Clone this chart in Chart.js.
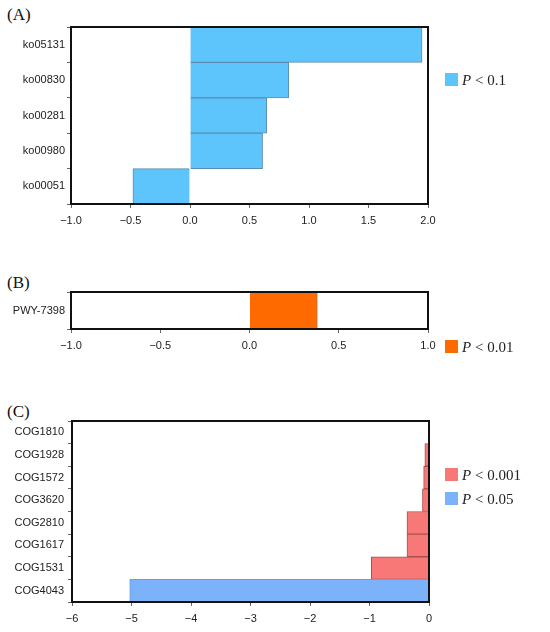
<!DOCTYPE html>
<html>
<head>
<meta charset="utf-8">
<script src="https://cdn.jsdelivr.net/npm/chart.js@4"></script>
<style>
  body { margin: 0; background: #fff; width: 550px; height: 632px; position: relative; overflow: hidden; }
  .panel { position: absolute; left: 0; width: 550px; }
  .tag { position: absolute; left: 7px; font: 17px "Liberation Serif", serif; color: #111; }
  .leg { position: absolute; left: 445px; font: 15px "Liberation Serif", serif; color: #222; white-space: nowrap; line-height: 14px; }
  .leg span.sw { display: inline-block; width: 13px; height: 13px; vertical-align: top; margin-right: 4px; }
  .leg i { font-style: italic; }
</style>
</head>
<body>
<div class="tag" style="top:5px">(A)</div>
<div class="tag" style="top:273px">(B)</div>
<div class="tag" style="top:402px">(C)</div>

<div class="panel" style="top:0;height:232px"><canvas id="chartA"></canvas></div>
<div class="panel" style="top:262px;height:100px"><canvas id="chartB"></canvas></div>
<div class="panel" style="top:400px;height:232px"><canvas id="chartC"></canvas></div>

<div class="leg" style="top:73px"><span class="sw" style="background:#5ec4fc"></span><i>P</i> &lt; 0.1</div>
<div class="leg" style="top:340px"><span class="sw" style="background:#ff6a00"></span><i>P</i> &lt; 0.01</div>
<div class="leg" style="top:468px"><span class="sw" style="background:#f87878"></span><i>P</i> &lt; 0.001</div>
<div class="leg" style="top:492px"><span class="sw" style="background:#7cb2f9"></span><i>P</i> &lt; 0.05</div>

<script>
// panel A - KEGG pathways
const koLabels = ["ko05131", "ko00830", "ko00281", "ko00980", "ko00051"];
const koValues = [1.95, 0.83, 0.645, 0.61, -0.48];

// panel B - MetaCyc pathway
const pwyLabels = ["PWY-7398"];
const pwyValues = [0.38];

// panel C - COG
const cogLabels = ["COG1810", "COG1928", "COG1572", "COG3620", "COG2810", "COG1617", "COG1531", "COG4043"];
const cogValues = [0, -0.07, -0.09, -0.11, -0.37, -0.37, -0.97, -5.03];
const cogGroup = ["p001", "p001", "p001", "p001", "p001", "p001", "p001", "p05"];

const tickFont = { family: "Liberation Sans", size: 11 };
const minus = (v) => String(v).replace("-", "\u2212");

// thick black frame around the plot area
const framePlugin = {
  id: "frame",
  afterDatasetsDraw(chart) {
    const a = chart.chartArea, ctx = chart.ctx;
    ctx.save();
    ctx.strokeStyle = "#111";
    ctx.lineWidth = 2;
    ctx.strokeRect(a.left, a.top, a.right - a.left, a.bottom - a.top);
    ctx.restore();
  }
};

function makeChart(id, labels, values, colors, borders, xopts, yWidth, yPad, pad) {
  new Chart(document.getElementById(id), {
    type: "bar",
    data: {
      labels: labels,
      datasets: [{
        data: values,
        backgroundColor: colors,
        borderColor: borders,
        borderWidth: 1,
        barPercentage: 1,
        categoryPercentage: 1
      }]
    },
    options: {
      indexAxis: "y",
      responsive: true,
      maintainAspectRatio: false,
      animation: false,
      layout: { padding: pad },
      plugins: { legend: { display: false }, tooltip: { enabled: false } },
      scales: {
        x: Object.assign({
          border: { display: false },
          grid: { drawOnChartArea: false, drawTicks: true, tickLength: 4, color: "#666" },
          afterFit(s) { s.height = 24; }
        }, xopts),
        y: {
          border: { display: false },
          grid: { drawOnChartArea: false, drawTicks: true, tickLength: 4, color: "#666" },
          ticks: { font: tickFont, color: "#222", padding: yPad },
          afterFit(s) { s.width = yWidth; }
        }
      }
    },
    plugins: [framePlugin]
  });
}

const xTicks = (step, fmt) => ({ font: tickFont, color: "#222", padding: 6, maxRotation: 0, stepSize: step, callback: fmt });

makeChart("chartA", koLabels, koValues, "#5ec4fc", "#5b8db0",
  { min: -1, max: 2, ticks: xTicks(0.5, (v) => minus(v.toFixed(1))) },
  71, 2, { top: 27, right: 122, bottom: 4, left: 0 });

makeChart("chartB", pwyLabels, pwyValues, "#ff6a00", "#b07850",
  { min: -1, max: 1, ticks: xTicks(0.5, (v) => minus(v.toFixed(1))) },
  71, 2, { top: 30, right: 122, bottom: 9, left: 0 });

makeChart("chartC", cogLabels, cogValues,
  cogGroup.map((g) => g === "p05" ? "#7cb2f9" : "#f87878"),
  cogGroup.map((g) => g === "p05" ? "#6b9fe0" : "#a85050"),
  { min: -6, max: 0, ticks: xTicks(1, (v) => minus(v)) },
  72, 4, { top: 21, right: 121, bottom: 6, left: 0 });
</script>
</body>
</html>
